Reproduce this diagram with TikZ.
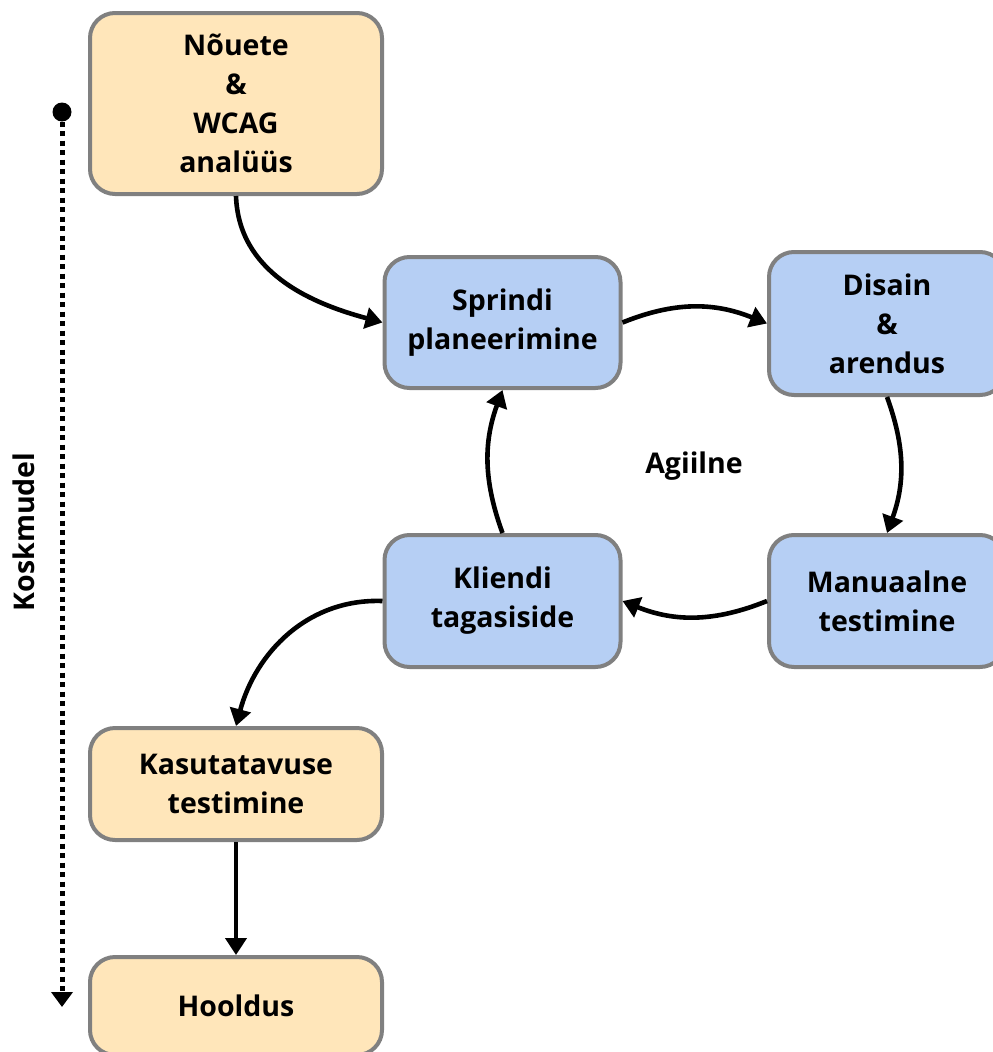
\documentclass[tikz,border=0pt]{standalone}
\usepackage{fontspec}
\setmainfont{Open Sans}
\usetikzlibrary{arrows.meta}
\definecolor{orangefill}{HTML}{FFE6BA}
\definecolor{bluefill}{HTML}{B6CFF4}
\definecolor{bordergray}{HTML}{808080}
\begin{document}
\begin{tikzpicture}[x=1pt,y=1pt,
  box/.style={draw=bordergray, line width=4pt, rounded corners=25pt, align=center,
    font=\fontsize{28.5}{39}\selectfont\bfseries, inner sep=0pt},
  obox/.style={box, fill=orangefill, minimum width=292pt},
  bbox/.style={box, fill=bluefill, minimum width=236pt},
  conn/.style={line width=4.6pt, -{Triangle[length=17pt,width=21pt]}},
  lbl/.style={font=\fontsize{28.5}{39}\selectfont\bfseries}]
\useasboundingbox (0,0) rectangle (993,-1052);
\node[obox, minimum height=181pt] (req) at (236,-103.5) {Nõuete\\\&\\WCAG\\analüüs};
\node[bbox, minimum height=131pt] (sprint) at (502.5,-322.5) {Sprindi\\planeerimine};
\node[bbox, minimum height=143pt] (dev) at (887,-323.5) {Disain\\\&\\arendus};
\node[bbox, minimum height=132pt] (test) at (887,-601) {Manuaalne\\testimine};
\node[bbox, minimum height=132pt] (fb) at (502.5,-601) {Kliendi\\tagasiside};
\node[obox, minimum height=112pt] (ux) at (236,-784) {Kasutatavuse\\testimine};
\node[obox, minimum height=98pt] (maint) at (236,-1006) {Hooldus};
\node[lbl] (agile) at (694,-466) {Agiilne};
\node[lbl, rotate=90] (waterfall) at (24,-532) {Koskmudel};

\draw[conn] (req.south) to[out=-88,in=165] (sprint.west);
\draw[conn] (sprint.east) to[out=22,in=158] (dev.west);
\draw[conn] (dev.south) to[out=-70,in=70] (test.north);
\draw[conn] (test.west) to[out=202,in=-22] (fb.east);
\draw[conn] (fb.north) to[out=110,in=-110] (sprint.south);
\draw[conn] (fb.west) to[out=178,in=75] (ux.north);
\draw[conn] (ux) -- (maint);

\coordinate (wstart) at (62,-112);
\coordinate (wend) at (62,-1007);
\draw[line width=5pt, dash pattern=on 5pt off 4.5pt, -{Triangle[length=15pt,width=21pt]}] (wstart) -- (wend);
\fill (wstart) circle (9.5pt);
\end{tikzpicture}
\end{document}
